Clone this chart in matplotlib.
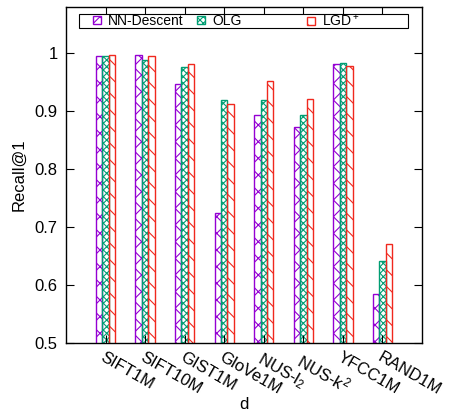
import numpy as np
import matplotlib
matplotlib.use('Agg')
import matplotlib.pyplot as plt
from matplotlib.patches import Rectangle
from matplotlib.legend import Legend

plt.rcParams['font.family'] = ['Liberation Sans', 'DejaVu Sans']
plt.rcParams['mathtext.default'] = 'regular'
plt.rcParams['hatch.linewidth'] = 0.8

datasets = ['SIFT1M', 'SIFT10M', 'GIST1M', 'GloVe1M', 'NUS-l$_2$', 'NUS-k$^2$', 'YFCC1M', 'RAND1M']
nn_descent = [0.996, 0.998, 0.947, 0.725, 0.893, 0.872, 0.981, 0.584]
olg = [0.996, 0.988, 0.976, 0.920, 0.920, 0.893, 0.984, 0.641]
lgd = [0.998, 0.995, 0.982, 0.912, 0.953, 0.922, 0.979, 0.671]

series = [('NN-Descent', nn_descent, '#9400D3', 'xx'),
          ('OLG', olg, '#009E73', 'xxxxx'),
          ('LGD$^+$', lgd, '#F0281E', '\\\\')]

fig = plt.figure(figsize=(4.49, 4.11), dpi=100)
ax = fig.add_axes([66/449, 1 - 343/411, 356/449, 336/411])

x = np.arange(len(datasets))
w = 0.163
bars = []
for i, (name, vals, col, hatch) in enumerate(series):
    b = ax.bar(x + (i - 1) * w, vals, w, bottom=0, facecolor='none', edgecolor=col,
               hatch=hatch, linewidth=1.0, label=name)
    bars.append(b)

ax.set_xlim(-1, 8)
ax.set_ylim(0.5, 1.08)
ax.set_yticks([0.5, 0.6, 0.7, 0.8, 0.9, 1.0])
ax.set_yticklabels(['0.5', '0.6', '0.7', '0.8', '0.9', '1'])
ax.set_xticks(x)
ax.set_xticklabels(datasets, rotation=-30, ha='left', va='top', rotation_mode='anchor')
ax.tick_params(direction='in', length=6, top=True, right=True, labelsize=12, pad=6)
ax.tick_params(axis='x', pad=5)
for s in ax.spines.values():
    s.set_linewidth(1.0)

ax.set_ylabel('Recall@1', fontsize=12, labelpad=6)
ax.set_xlabel('d', fontsize=12)
ax.xaxis.set_label_coords(0.5, -0.16)

# legend box like gnuplot's: one frame, three evenly spaced entries
ax.add_patch(Rectangle((0.0365, 0.9375), 0.924, 0.0417, transform=ax.transAxes,
                       facecolor='white', edgecolor='black', linewidth=0.8, zorder=4))
for b, (name, _, _, _), lx in zip(bars, series, [0.0758, 0.368, 0.677]):
    leg = Legend(ax, [b], [name], loc='center left', bbox_to_anchor=(lx, 0.9583),
                 fontsize=10, frameon=False, handlelength=0.55, handleheight=0.5,
                 handletextpad=0.55, borderpad=0, borderaxespad=0)
    leg.set_zorder(5)
    ax.add_artist(leg)

fig.savefig('out.png', dpi=100)
